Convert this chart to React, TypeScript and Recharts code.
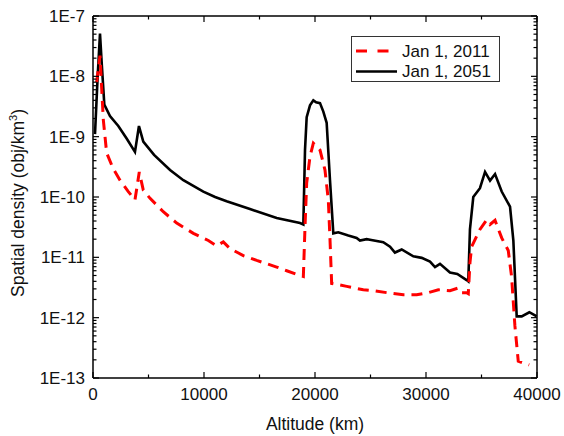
import React from 'react';
import { LineChart, Line, XAxis, YAxis, Legend, Label } from 'recharts';

const alt2011 = [330, 630, 930, 1230, 1800, 2430, 3180, 3780, 4170, 4530, 5140, 6330, 7540, 9040, 10390, 11140, 11740, 12340, 13540, 14750, 16550, 17450, 18500, 18950, 19100, 19250, 19550, 19850, 20450, 20900, 21200, 21350, 21500, 22860, 24350, 25250, 26460, 27960, 29160, 30210, 31110, 31710, 32160, 32910, 33210, 33660, 33810, 33960, 34110, 34860, 35470, 35770, 36220, 36820, 37410, 37710, 38010, 38310, 39050, 39300];
const dens2011 = [8e-9, 2.2e-8, 1.9e-9, 5.4e-10, 3e-10, 1.9e-10, 1.23e-10, 8.9e-11, 2.6e-10, 1.3e-10, 9.5e-11, 5.7e-11, 3.7e-11, 2.5e-11, 1.9e-11, 1.55e-11, 1.8e-11, 1.4e-11, 1.07e-11, 8.9e-12, 6.9e-12, 6e-12, 5.1e-12, 4.8e-12, 3.2e-11, 1.7e-10, 4.7e-10, 7.8e-10, 6e-10, 2.8e-10, 8.9e-11, 2e-11, 3.7e-12, 3.3e-12, 2.9e-12, 2.8e-12, 2.6e-12, 2.4e-12, 2.4e-12, 2.6e-12, 2.9e-12, 2.85e-12, 2.8e-12, 3.1e-12, 2.6e-12, 2.6e-12, 2.5e-12, 8.1e-12, 1.5e-11, 2.9e-11, 4.2e-11, 3.5e-11, 4.1e-11, 2.1e-11, 1.3e-11, 4.8e-12, 7.3e-13, 1.9e-13, 1.7e-13, 1.65e-13];

const alt2051 = [180, 420, 630, 800, 1020, 1530, 2280, 3030, 3780, 4140, 4530, 5500, 6940, 8140, 9940, 11000, 12040, 14140, 16550, 18650, 18950, 19100, 19250, 19550, 19850, 20100, 20450, 20750, 21050, 21350, 21650, 22100, 23000, 23750, 24050, 24650, 24950, 26150, 26760, 27200, 27810, 28860, 29610, 30360, 30810, 31260, 32160, 32820, 33660, 33810, 33960, 34260, 34860, 35320, 35770, 36220, 36820, 37570, 37870, 38170, 38620, 39310, 39970];
const dens2051 = [1.1e-9, 1e-8, 5.1e-8, 1.5e-8, 3.4e-9, 2.2e-9, 1.5e-9, 9.3e-10, 5.6e-10, 1.5e-9, 8.3e-10, 5e-10, 2.8e-10, 1.9e-10, 1.23e-10, 1.0e-10, 8.5e-11, 6.3e-11, 4.5e-11, 3.7e-11, 3.5e-11, 6e-10, 2.1e-9, 3.3e-9, 4e-9, 3.7e-9, 3.6e-9, 2.6e-9, 1.7e-9, 1.9e-10, 2.5e-11, 2.6e-11, 2.3e-11, 2.1e-11, 1.9e-11, 2.0e-11, 1.95e-11, 1.78e-11, 1.5e-11, 1.2e-11, 1.35e-11, 1.04e-11, 9.8e-12, 8.5e-12, 6.9e-12, 7.8e-12, 5.6e-12, 5.3e-12, 4.2e-12, 4.0e-12, 2.9e-11, 1.0e-10, 1.4e-10, 2.6e-10, 1.87e-10, 2.4e-10, 1.23e-10, 6.9e-11, 1.9e-11, 1.05e-12, 1.05e-12, 1.23e-12, 1.05e-12];

const xTicks = [0, 5000, 10000, 15000, 20000, 25000, 30000, 35000, 40000];
const xLabelTicks = [0, 10000, 20000, 30000, 40000];
const decadeExps = [-13, -12, -11, -10, -9, -8, -7];
const seriesNames = ['Jan 1, 2011', 'Jan 1, 2051'];

const yTicks: number[] = [];
decadeExps.forEach((e, i) => {
  if (i < decadeExps.length - 1) {
    for (let m = 1; m <= 9; m++) yTicks.push(m * Math.pow(10, e));
  } else {
    yTicks.push(Math.pow(10, e));
  }
});

const data2011 = alt2011.map((a, i) => ({ alt: a, d: dens2011[i] }));
const data2051 = alt2051.map((a, i) => ({ alt: a, d: dens2051[i] }));

const FONT = '"Liberation Sans", Arial, sans-serif';
const FS = 17;

const isDecade = (v: number) => Math.abs(Math.log10(v) - Math.round(Math.log10(v))) < 1e-6;
const fmtY = (v: number) => `1E${Math.round(Math.log10(v))}`;

const makeYTick = (side: 'left' | 'right') => (props: any) => {
  const { x, y, payload } = props;
  const v = payload.value;
  const major = isDecade(v);
  const len = major ? 6 : 3.5;
  const dir = side === 'left' ? 1 : -1;
  return (
    <g>
      <line x1={x} y1={y} x2={x + dir * len} y2={y} stroke="#000" strokeWidth={1.2} />
      {side === 'left' && major && (
        <text x={x - 8} y={y} dy="0.35em" textAnchor="end" fontFamily={FONT} fontSize={FS} fill="#111">
          {fmtY(v)}
        </text>
      )}
    </g>
  );
};

const makeXTick = (side: 'bottom' | 'top') => (props: any) => {
  const { x, y, payload } = props;
  const v = payload.value;
  const major = xLabelTicks.includes(v);
  const len = major ? 6 : 3.5;
  const dir = side === 'bottom' ? -1 : 1;
  return (
    <g>
      <line x1={x} y1={y} x2={x} y2={y + dir * len} stroke="#000" strokeWidth={1.2} />
      {side === 'bottom' && major && (
        <text x={x} y={y + 22} textAnchor="middle" fontFamily={FONT} fontSize={FS} fill="#111">
          {v}
        </text>
      )}
    </g>
  );
};

const YTitle = (props: any) => {
  const vb = props.viewBox || { x: 0, y: 16, width: 93, height: 362 };
  const cx = vb.x + 24;
  const cy = vb.y + vb.height / 2 + 6;
  return (
    <text
      x={cx}
      y={cy}
      transform={`rotate(-90, ${cx}, ${cy})`}
      textAnchor="middle"
      fontFamily={FONT}
      fontSize={17.5}
      fill="#111"
    >
      Spatial density (obj/km
      <tspan fontSize={11} dy={-7}>3</tspan>
      <tspan dy={7}>)</tspan>
    </text>
  );
};

const XTitle = (props: any) => {
  const vb = props.viewBox || { x: 93, y: 378, width: 444, height: 58 };
  return (
    <text x={vb.x + vb.width / 2} y={vb.y + 52} textAnchor="middle" fontFamily={FONT} fontSize={17.5} fill="#111">
      Altitude (km)
    </text>
  );
};

const LegendBox = () => (
  <svg width={150} height={47} style={{ display: 'block', overflow: 'visible' }}>
    <rect x={0.5} y={0.5} width={148} height={45} fill="#fff" stroke="#333" strokeWidth={1} />
    <line x1={5} y1={15} x2={46} y2={15} stroke="#ff0000" strokeWidth={3} strokeDasharray="11 10.5" />
    <text x={51} y={15} dy="0.35em" fontFamily={FONT} fontSize={FS} fill="#111">{seriesNames[0]}</text>
    <line x1={5} y1={35.5} x2={46} y2={35.5} stroke="#000" strokeWidth={2.5} />
    <text x={51} y={35.5} dy="0.35em" fontFamily={FONT} fontSize={FS} fill="#111">{seriesNames[1]}</text>
  </svg>
);

export default function App() {
  return (
    <div style={{ position: 'absolute', left: 0, top: 0, width: 564, height: 436, overflow: 'hidden', background: '#fff' }}>
      <LineChart width={564} height={436} margin={{ top: 0, right: 0, bottom: 0, left: 0 }}>
        <XAxis
          xAxisId="bottom"
          type="number"
          dataKey="alt"
          domain={[0, 40000]}
          ticks={xTicks}
          interval={0}
          tickSize={0}
          tickMargin={0}
          tick={makeXTick('bottom')}
          axisLine={{ stroke: '#000', strokeWidth: 1.5 }}
          tickLine={false}
          height={58}
          allowDataOverflow
        >
          <Label content={<XTitle />} />
        </XAxis>
        <XAxis
          xAxisId="top"
          orientation="top"
          type="number"
          dataKey="alt"
          domain={[0, 40000]}
          ticks={xTicks}
          interval={0}
          tickSize={0}
          tickMargin={0}
          tick={makeXTick('top')}
          axisLine={{ stroke: '#000', strokeWidth: 1.5 }}
          tickLine={false}
          height={16}
          allowDataOverflow
        />
        <YAxis
          yAxisId="left"
          scale="log"
          type="number"
          domain={[1e-13, 1e-7]}
          ticks={yTicks}
          interval={0}
          tickSize={0}
          tickMargin={0}
          tick={makeYTick('left')}
          axisLine={{ stroke: '#000', strokeWidth: 1.5 }}
          tickLine={false}
          width={93}
          allowDataOverflow
        >
          <Label content={<YTitle />} />
        </YAxis>
        <YAxis
          yAxisId="right"
          orientation="right"
          scale="log"
          type="number"
          domain={[1e-13, 1e-7]}
          ticks={yTicks}
          interval={0}
          tickSize={0}
          tickMargin={0}
          tick={makeYTick('right')}
          axisLine={{ stroke: '#000', strokeWidth: 1.5 }}
          tickLine={false}
          width={27}
          allowDataOverflow
        />
        <Line
          xAxisId="bottom"
          yAxisId="left"
          data={data2051}
          dataKey="d"
          name={seriesNames[1]}
          type="linear"
          stroke="#000"
          strokeWidth={2.6}
          dot={false}
          isAnimationActive={false}
        />
        <Line
          xAxisId="bottom"
          yAxisId="left"
          data={data2011}
          dataKey="d"
          name={seriesNames[0]}
          type="linear"
          stroke="#ff0000"
          strokeWidth={3}
          strokeDasharray="11 7"
          dot={false}
          isAnimationActive={false}
        />
        <Legend
          content={<LegendBox />}
          wrapperStyle={{ position: 'absolute', left: 351, top: 36, width: 0, height: 0, overflow: 'visible' }}
        />
      </LineChart>
    </div>
  );
}
